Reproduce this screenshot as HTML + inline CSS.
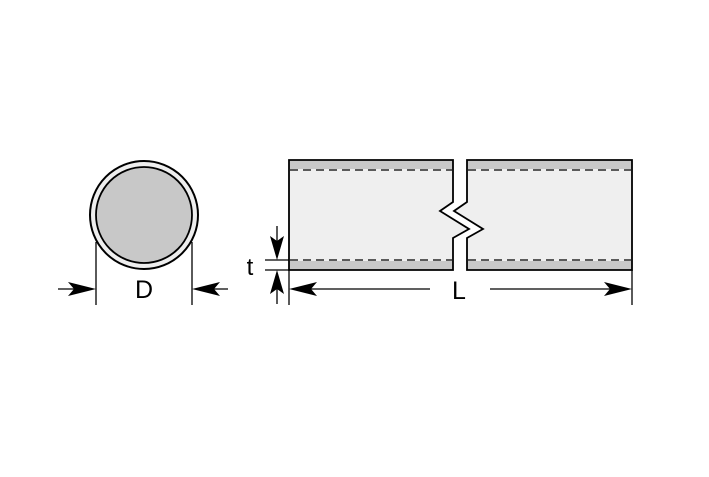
<!DOCTYPE html>
<html><head><style>body{margin:0;background:#fff}</style></head><body>
<svg width="709" height="472" xmlns="http://www.w3.org/2000/svg" font-family="Liberation Sans, sans-serif">
<rect width="709" height="472" fill="#fff"/>
<!-- circle -->
<circle cx="144" cy="215" r="54" fill="#eee" stroke="#000" stroke-width="2"/>
<circle cx="144" cy="215" r="48" fill="#c8c8c8" stroke="#000" stroke-width="1.8"/>
<line x1="96" y1="242" x2="96" y2="305" stroke="#000" stroke-width="1.3"/>
<line x1="192" y1="242" x2="192" y2="305" stroke="#000" stroke-width="1.3"/>
<line x1="58" y1="289" x2="85" y2="289" stroke="#000" stroke-width="1.3"/>
<polygon points="96,289 68,282 74,289 68,296" fill="#000"/>
<line x1="203" y1="289" x2="228" y2="289" stroke="#000" stroke-width="1.3"/>
<polygon points="192,289 220,282 214,289 220,296" fill="#000"/>
<text x="144" y="298" font-size="25" text-anchor="middle">D</text>
<!-- tube left -->
<path d="M289,160 H453 V202 L440,211 L469,229 L453,238 V270 H289 Z" fill="#efefef"/>
<rect x="289" y="160" width="164" height="9" fill="#c8c8c8"/>
<rect x="289" y="261" width="164" height="9" fill="#c8c8c8"/>
<path d="M289,160 H453 V202 L440,211 L469,229 L453,238 V270 H289 Z" fill="none" stroke="#000" stroke-width="1.8"/>
<!-- tube right -->
<path d="M467,160 H632 V270 H467 V238 L483,229 L454,211 L467,202 Z" fill="#efefef"/>
<rect x="467" y="160" width="165" height="9" fill="#c8c8c8"/>
<rect x="467" y="261" width="165" height="9" fill="#c8c8c8"/>
<path d="M467,160 H632 V270 H467 V238 L483,229 L454,211 L467,202 Z" fill="none" stroke="#000" stroke-width="1.8"/>
<g stroke="#000" stroke-width="1.3" stroke-dasharray="8,5">
<line x1="290" y1="170" x2="452" y2="170"/>
<line x1="290" y1="260" x2="452" y2="260"/>
<line x1="468" y1="170" x2="631" y2="170"/>
<line x1="468" y1="260" x2="631" y2="260"/>
</g>
<!-- t -->
<line x1="265" y1="260" x2="289" y2="260" stroke="#000" stroke-width="1.3"/>
<line x1="265" y1="270" x2="289" y2="270" stroke="#000" stroke-width="1.3"/>
<line x1="277" y1="226" x2="277" y2="250" stroke="#000" stroke-width="1.3"/>
<polygon points="277,260 270,236 277,241 284,236" fill="#000"/>
<line x1="277" y1="280" x2="277" y2="304" stroke="#000" stroke-width="1.3"/>
<polygon points="277,270 270,294 277,289 284,294" fill="#000"/>
<text x="250" y="275" font-size="24" text-anchor="middle">t</text>
<!-- L -->
<line x1="289" y1="270" x2="289" y2="305" stroke="#000" stroke-width="1.3"/>
<line x1="632" y1="270" x2="632" y2="305" stroke="#000" stroke-width="1.3"/>
<line x1="300" y1="289" x2="430" y2="289" stroke="#000" stroke-width="1.3"/>
<line x1="490" y1="289" x2="620" y2="289" stroke="#000" stroke-width="1.3"/>
<polygon points="289,289 317,282 311,289 317,296" fill="#000"/>
<polygon points="632,289 604,282 610,289 604,296" fill="#000"/>
<text x="459" y="299" font-size="25" text-anchor="middle">L</text>
</svg>
</body></html>
